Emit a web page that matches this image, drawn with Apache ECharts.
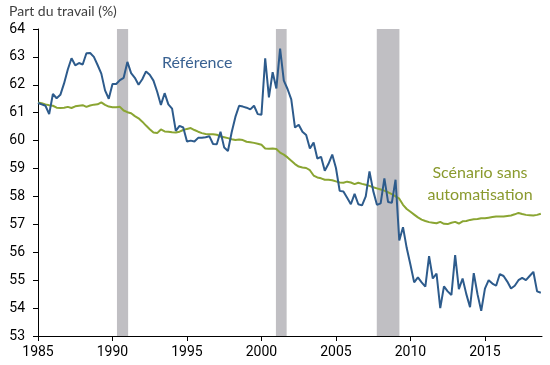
<!DOCTYPE html>
<html>
<head>
<meta charset="utf-8">
<script src="https://cdn.jsdelivr.net/npm/echarts@6/dist/echarts.min.js"></script>
<style>html,body{margin:0;padding:0;background:#fff}#c{width:550px;height:365px}</style>
</head>
<body>
<div id="c"></div>
<script>
// Quarterly series, first quarter = 1985 Q1
const startYear = 1985;
const reference = [
  61.35, 61.30, 61.25, 60.95,
  61.67, 61.52, 61.64, 62.05,
  62.55, 62.95, 62.70, 62.78,
  62.73, 63.13, 63.14, 63.00,
  62.71, 62.40, 61.80, 61.50,
  62.03, 62.03, 62.17, 62.25,
  62.82, 62.42, 62.25, 62.00,
  62.20, 62.48, 62.36, 62.15,
  61.75, 61.28, 61.70, 61.30,
  61.15, 60.35, 60.53, 60.47,
  59.97, 60.00, 59.97, 60.10,
  60.10, 60.12, 60.16, 59.88,
  59.87, 60.32, 59.75, 59.63,
  60.30, 60.85, 61.25, 61.22,
  61.18, 61.12, 61.25, 60.95,
  60.93, 62.95, 61.55, 62.45,
  61.87, 63.30, 62.15, 61.85,
  61.48, 60.47, 60.57, 60.32,
  60.20, 59.72, 59.93, 59.36,
  59.42, 58.92, 59.17, 59.50,
  59.02, 58.20, 58.18, 57.95,
  57.72, 58.09, 57.72, 57.68,
  58.00, 58.90, 58.20, 57.70,
  57.75, 58.65, 57.80, 57.77,
  58.60, 56.42, 56.90, 56.15,
  55.55, 54.92, 55.10, 54.92,
  54.77, 55.86, 55.06, 55.24,
  54.00, 54.78, 54.60, 54.47,
  55.90, 54.68, 55.06, 54.50,
  54.03, 55.25, 54.50, 53.90,
  54.70, 55.00, 54.88, 54.80,
  55.22, 55.15, 54.95, 54.70,
  54.80, 55.00, 55.08, 55.00,
  55.15, 55.30, 54.60, 54.55
];
const noAutomation = [
  61.37, 61.34, 61.30, 61.27,
  61.25, 61.18, 61.17, 61.18,
  61.21, 61.17, 61.23, 61.25,
  61.27, 61.21, 61.26, 61.29,
  61.30, 61.37, 61.28, 61.22,
  61.20, 61.20, 61.21, 61.08,
  61.02, 60.98, 60.88, 60.80,
  60.68, 60.54, 60.41, 60.29,
  60.27, 60.40, 60.33, 60.32,
  60.30, 60.29, 60.32, 60.38,
  60.42, 60.45, 60.38, 60.32,
  60.27, 60.24, 60.23, 60.23,
  60.21, 60.15, 60.12, 60.09,
  60.05, 60.02, 60.04, 60.02,
  59.96, 59.94, 59.92, 59.89,
  59.85, 59.72, 59.71, 59.72,
  59.70, 59.57, 59.50, 59.40,
  59.28, 59.16, 59.07, 59.04,
  59.02, 58.94, 58.75, 58.68,
  58.65, 58.60, 58.60, 58.58,
  58.54, 58.50, 58.49, 58.53,
  58.50, 58.44, 58.49, 58.45,
  58.42, 58.38, 58.33, 58.29,
  58.25, 58.21, 58.15, 58.08,
  58.00, 57.92, 57.70, 57.55,
  57.45, 57.35, 57.25, 57.17,
  57.12, 57.08, 57.06, 57.04,
  57.09, 57.02, 57.01, 57.06,
  57.09, 57.03, 57.11, 57.12,
  57.16, 57.18, 57.19, 57.22,
  57.22, 57.24, 57.26, 57.28,
  57.28, 57.28, 57.30, 57.32,
  57.36, 57.41, 57.37, 57.34,
  57.33, 57.32, 57.34, 57.38
];
const recessions = [[1990.3, 1991.05], [2000.97, 2001.69], [2007.74, 2009.26]];
const xTicks = [1985, 1990, 1995, 2000, 2005, 2010, 2015];
const yMin = 53, yMax = 64;
const xMax = 2018.83;

const toPairs = arr => arr.map((v, i) => [startYear + i * 0.25, v]);

const chart = echarts.init(document.getElementById('c'), null, {renderer: 'canvas'});
chart.setOption({
  animation: false,
  grid: {left: 38, right: 8, top: 29, bottom: 29},
  xAxis: {
    type: 'value', min: startYear, max: xMax,
    splitLine: {show: false},
    axisLine: {lineStyle: {color: '#000', width: 1}},
    axisTick: {show: true, length: 5, lineStyle: {color: '#000'}, customValues: xTicks},
    axisLabel: {customValues: xTicks, color: '#000', fontSize: 14, fontFamily: 'Roboto', margin: 9,
      formatter: v => String(Math.round(v))}
  },
  yAxis: {
    type: 'value', min: yMin, max: yMax, interval: 1,
    splitLine: {show: false},
    axisLine: {show: true, lineStyle: {color: '#000', width: 1}},
    axisTick: {show: true, length: 5, lineStyle: {color: '#000'}},
    axisLabel: {color: '#000', fontSize: 14, fontFamily: 'Roboto', margin: 13}
  },
  series: [
    {
      type: 'line', data: toPairs(noAutomation), showSymbol: false, symbol: 'none',
      lineStyle: {color: '#8aa532', width: 2}, z: 3,
      markArea: {
        silent: true,
        itemStyle: {color: '#c0bfc3'},
        data: recessions.map(r => [{xAxis: r[0]}, {xAxis: r[1]}])
      }
    },
    {
      type: 'line', data: toPairs(reference), showSymbol: false, symbol: 'none',
      lineStyle: {color: '#2d5b8c', width: 2}, z: 4
    }
  ],
  graphic: [
    {type: 'text', left: 9, top: 4, style: {text: 'Part du travail (%)', fill: '#404040', font: '14px Lato'}},
    {type: 'text', left: 162, top: 55, style: {text: 'Référence', fill: '#3a6292', font: '16px Lato'}},
    {type: 'text', x: 480, y: 165, style: {text: 'Scénario sans', fill: '#8a9a2e', font: '16px Lato', align: 'center', textAlign: 'center'}},
    {type: 'text', x: 480, y: 187, style: {text: 'automatisation', fill: '#8a9a2e', font: '16px Lato', align: 'center', textAlign: 'center'}}
  ]
});
</script>
</body>
</html>
